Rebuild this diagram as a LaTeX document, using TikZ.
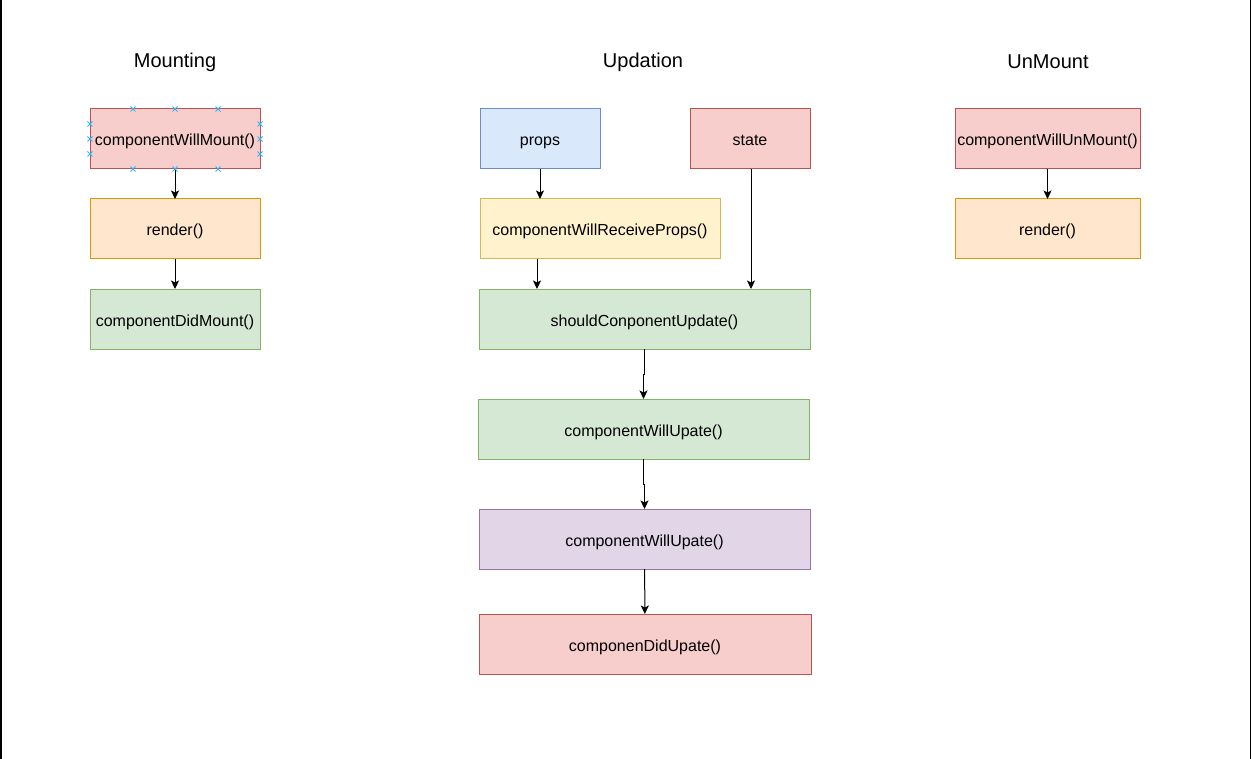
\documentclass[tikz,border=0pt]{standalone}
\usepackage{fontspec}
\setmainfont{Liberation Sans}
\usetikzlibrary{positioning, arrows.meta, calc}

\definecolor{redfill}{HTML}{F8CECC}\definecolor{redline}{HTML}{B85450}
\definecolor{orangefill}{HTML}{FFE6CC}\definecolor{orangeline}{HTML}{D79B00}
\definecolor{greenfill}{HTML}{D5E8D4}\definecolor{greenline}{HTML}{82B366}
\definecolor{bluefill}{HTML}{DAE8FC}\definecolor{blueline}{HTML}{6C8EBF}
\definecolor{yellowfill}{HTML}{FFF2CC}\definecolor{yellowline}{HTML}{D6B656}
\definecolor{purplefill}{HTML}{E1D5E7}\definecolor{purpleline}{HTML}{9673A6}
\definecolor{handleblue}{HTML}{29B6F2}

\begin{document}
\begin{tikzpicture}[x=1pt, y=-1pt, node distance=30pt,
  box/.style={draw, line width=1pt, inner sep=0pt, outer sep=0pt, minimum height=60pt, text height=17pt, text depth=3pt, font=\fontsize{16}{19}\selectfont},
  red/.style={box, fill=redfill, draw=redline},
  orange/.style={box, fill=orangefill, draw=orangeline},
  green/.style={box, fill=greenfill, draw=greenline},
  blue/.style={box, fill=bluefill, draw=blueline},
  yellow/.style={box, fill=yellowfill, draw=yellowline},
  purple/.style={box, fill=purplefill, draw=purpleline},
  title/.style={font=\fontsize{20}{24}\selectfont},
  arr/.style={-{Stealth[length=8.5pt, width=8pt, inset=2pt]}, line width=1pt},
  handle/.style={draw=handleblue, line width=0.8pt}]
	\useasboundingbox (0,0) rectangle (1252,759);
	\draw[line width=1.5pt] (0.75,0) -- (0.75,759);
	\draw[line width=1.5pt] (1250.5,0) -- (1250.5,759);

	% Mounting
	\node[title] (tmount) at (175,62) {Mounting};
	\node[red, minimum width=170pt] (wmount) at (175,139) {componentWillMount()};
	\node[orange, minimum width=170pt, below=of wmount] (mrender) {render()};
	\node[green, minimum width=170pt, below=of mrender] (dmount) {componentDidMount()};
	\draw[arr] (wmount) -- (mrender);
	\draw[arr] (mrender) -- (dmount);
	\foreach \x in {133,175,218} {
		\draw[handle] (\x-2.5,106.5) -- (\x+2.5,111.5) (\x-2.5,111.5) -- (\x+2.5,106.5);
		\draw[handle] (\x-2.5,166.5) -- (\x+2.5,171.5) (\x-2.5,171.5) -- (\x+2.5,166.5);
	}
	\foreach \y in {124,139,154} {
		\draw[handle] (87.5,\y-2.5) -- (92.5,\y+2.5) (87.5,\y+2.5) -- (92.5,\y-2.5);
		\draw[handle] (257.5,\y-2.5) -- (262.5,\y+2.5) (257.5,\y+2.5) -- (262.5,\y-2.5);
	}

	% Updation
	\node[title] (tupdate) at (643,62) {Updation};
	\node[blue, minimum width=120pt] (props) at (540,139) {props};
	\node[red, minimum width=120pt] (state) at (750,139) {state};
	\node[yellow, minimum width=240pt] (wprops) at (600,229) {componentWillReceiveProps()};
	\node[green, minimum width=331pt] (should) at (644.5,319) {shouldConponentUpdate()};
	\node[green, minimum width=331pt] (wupdate) at (643.5,429) {componentWillUpate()};
	\node[purple, minimum width=331pt] (wupdate2) at (644.5,539) {componentWillUpate()};
	\node[red, minimum width=332pt] (dupdate) at (645,644) {componenDidUpate()};
	\draw[arr] (props.south) -- (props.south |- wprops.north);
	\coordinate (wpout) at ($(wprops.south west)+(57,0)$);
	\draw[arr] (wpout) -- (wpout |- should.north);
	\draw[arr] ($(state.south)+(1,0)$) -- ($(state.south |- should.north)+(1,0)$);
	\draw[arr] (should.south) -- ++(0,25) -| (wupdate.north);
	\draw[arr] (wupdate.south) -- ++(0,25) -| (wupdate2.north);
	\draw[arr] (wupdate2) -- (dupdate);

	% UnMount
	\node[title] (tunmount) at (1048,62) {UnMount};
	\node[red, minimum width=185pt] (wunmount) at (1047.5,139) {componentWillUnMount()};
	\node[orange, minimum width=185pt, below=of wunmount] (urender) {render()};
	\draw[arr] (wunmount) -- (urender);
\end{tikzpicture}
\end{document}
